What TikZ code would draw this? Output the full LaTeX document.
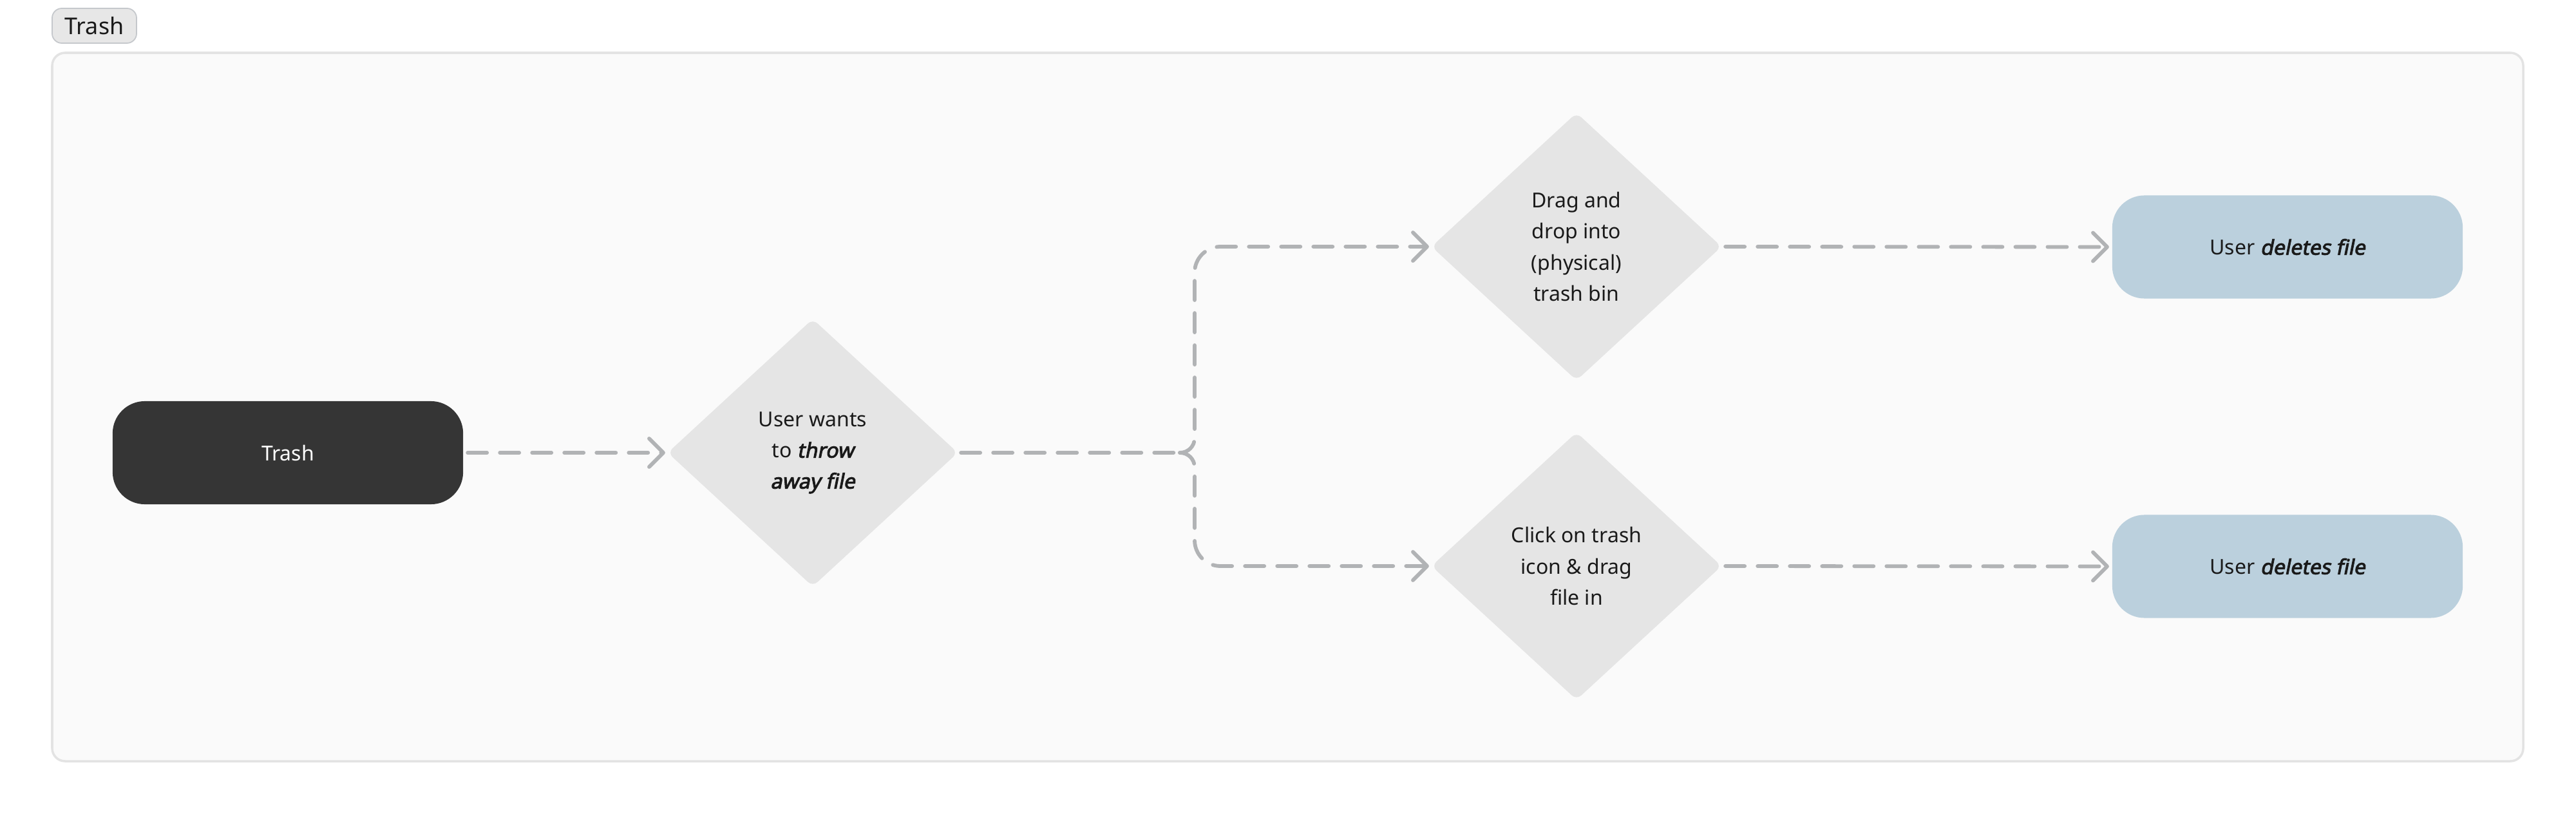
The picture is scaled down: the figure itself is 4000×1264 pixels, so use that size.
\documentclass[tikz,border=0pt]{standalone}
\usepackage{fontspec}
\setmainfont{Noto Sans}[BoldItalicFont={Noto Sans}, BoldItalicFeatures={FakeBold=3, FakeSlant=0.2}]
\usetikzlibrary{arrows.meta,shapes.geometric}
\definecolor{arrowc}{HTML}{B1B3B5}
\definecolor{diamc}{HTML}{E5E5E5}
\definecolor{darkc}{HTML}{353535}
\definecolor{bluec}{HTML}{BBD0DD}
\definecolor{framebg}{HTML}{FAFAFA}
\definecolor{framec}{HTML}{E3E3E3}
\definecolor{tagfill}{HTML}{E7E7E7}
\definecolor{tagborder}{HTML}{C5C8CC}
\definecolor{textc}{HTML}{1A1A1A}
\newcommand\dgfont{\fontsize{9.1}{13.66}\selectfont}
\newcommand\bi[1]{\textbf{\textit{#1}}}
\begin{document}
\begin{tikzpicture}[x=0.01cm,y=-0.01cm,
  framebox/.style={draw=framec, fill=framebg, line width=1pt, rounded corners=0.2cm},
  tagbox/.style={draw=tagborder, fill=tagfill, line width=0.5pt, rounded corners=0.15cm,
    minimum width=1.31cm, minimum height=0.54cm, inner sep=0pt, text=textc,
    font=\fontsize{10.2}{12}\selectfont},
  pill/.style={rounded corners=0.5cm, minimum width=5.44cm, minimum height=1.6cm,
    inner sep=0pt, outer sep=0pt, align=center, font=\dgfont},
  startpill/.style={pill, fill=darkc, text=white},
  endpill/.style={pill, fill=bluec, text=textc},
  decision/.style={diamond, fill=diamc, rounded corners=0.1cm, minimum width=4.5cm,
    minimum height=4.15cm, inner sep=0pt, outer sep=0pt, align=center, font=\dgfont, text=textc},
  conn/.style={draw=arrowc, line width=1.65pt, dash pattern=on 0.3cm off 0.2cm,
    line cap=round, line join=round},
  tip/.style={-{Straight Barb[length=0.22cm, width=0.44cm, round]}}
]
\useasboundingbox (0,0) rectangle (4000,1264);
\fill[white] (0,0) rectangle (4000,1264);
\draw[framebox] (81,82) rectangle (3918,1182);
\node[tagbox] (tag) at (146.5,40) {Trash};

\node[startpill] (start) at (447,703) {Trash};
\node[decision] (d1) at (1262,703) {User wants\\to \bi{throw}\\\bi{away file}};
\node[decision] (d2) at (2448,383) {Drag and\\drop into\\(physical)\\trash bin};
\node[decision] (d3) at (2448,879) {Click on trash\\icon \& drag\\file in};
\node[endpill] (e1) at (3552,383.5) {User \bi{deletes file}};
\node[endpill] (e2) at (3552,879.5) {User \bi{deletes file}};
\coordinate (j) at (1832,703);

\draw[conn, tip, shorten <=0.07cm, shorten >=0.04cm] (start.east) -- (d1.west);
\draw[conn, shorten <=0.05cm] (d1.east) -- (j);
\draw[conn, tip, shorten >=0.04cm] (j) .. controls (1845,703) and (1855,693) .. (1855,680)
  -- (1855,423) .. controls (1855,401) and (1873,383) .. (1895,383) -- (d2.west);
\draw[conn, tip, shorten >=0.04cm] (j) .. controls (1845,703) and (1855,713) .. (1855,726)
  -- (1855,839) .. controls (1855,861) and (1873,879) .. (1895,879) -- (d3.west);
\draw[conn, tip, shorten <=0.06cm, shorten >=0.05cm] (d2.east) -- (e1.west);
\draw[conn, tip, shorten <=0.06cm, shorten >=0.05cm] (d3.east) -- (e2.west);
\end{tikzpicture}
\end{document}
